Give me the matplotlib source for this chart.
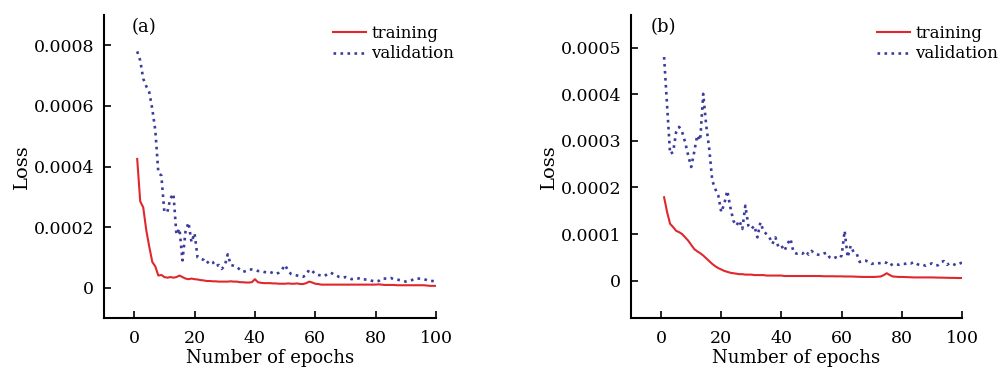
import matplotlib
matplotlib.use("Agg")
import matplotlib.pyplot as plt
import numpy as np

plt.rcParams["font.family"] = ["DejaVu Serif"]

epochs = np.arange(1, 101)

# panel (a), loss in units of 1e-4
train_a = [4.25, 2.85, 2.65, 1.9, 1.35, 0.85, 0.7, 0.4, 0.42, 0.35,
           0.33, 0.35, 0.33, 0.35, 0.4, 0.35, 0.3, 0.28, 0.3, 0.28,
           0.27, 0.25, 0.24, 0.22, 0.22, 0.21, 0.21, 0.2, 0.2, 0.2,
           0.2, 0.21, 0.2, 0.2, 0.18, 0.18, 0.17, 0.17, 0.18, 0.28,
           0.18, 0.16, 0.15, 0.15, 0.15, 0.14, 0.14, 0.13, 0.13, 0.13,
           0.14, 0.13, 0.13, 0.14, 0.12, 0.12, 0.15, 0.2, 0.17, 0.13,
           0.12, 0.1, 0.1, 0.1, 0.1, 0.1, 0.1, 0.1, 0.1, 0.1,
           0.1, 0.1, 0.1, 0.1, 0.1, 0.1, 0.1, 0.1, 0.1, 0.1,
           0.11, 0.1, 0.09, 0.09, 0.09, 0.09, 0.08, 0.08, 0.08, 0.08,
           0.08, 0.08, 0.08, 0.08, 0.08, 0.08, 0.07, 0.06, 0.06, 0.06]
val_a = [7.8, 7.5, 6.9, 6.65, 6.45, 5.9, 5.2, 3.8, 3.7, 2.5,
         2.5, 2.95, 3.1, 1.75, 1.95, 0.9, 1.85, 2.15, 1.5, 1.8,
         1.0, 0.95, 0.92, 0.8, 0.9, 0.85, 0.7, 0.75, 0.62, 0.72,
         1.1, 0.75, 0.72, 0.68, 0.6, 0.52, 0.55, 0.6, 0.6, 0.58,
         0.55, 0.55, 0.52, 0.5, 0.52, 0.48, 0.45, 0.5, 0.6, 0.75,
         0.55, 0.45, 0.42, 0.4, 0.38, 0.36, 0.42, 0.6, 0.55, 0.45,
         0.42, 0.4, 0.38, 0.45, 0.5, 0.45, 0.4, 0.35, 0.33, 0.35,
         0.32, 0.28, 0.3, 0.3, 0.32, 0.27, 0.27, 0.25, 0.22, 0.2,
         0.22, 0.3, 0.3, 0.3, 0.32, 0.28, 0.27, 0.25, 0.23, 0.2,
         0.22, 0.25, 0.3, 0.3, 0.3, 0.28, 0.25, 0.22, 0.22, 0.2]

# panel (b), loss in units of 1e-4
train_b = [1.79, 1.47, 1.22, 1.15, 1.07, 1.04, 1.0, 0.93, 0.86, 0.77,
           0.68, 0.63, 0.59, 0.54, 0.48, 0.42, 0.36, 0.31, 0.27, 0.24,
           0.21, 0.19, 0.17, 0.16, 0.15, 0.14, 0.14, 0.13, 0.13, 0.13,
           0.12, 0.12, 0.12, 0.12, 0.11, 0.11, 0.11, 0.11, 0.11, 0.11,
           0.1, 0.1, 0.1, 0.1, 0.1, 0.1, 0.1, 0.1, 0.1, 0.1,
           0.1, 0.1, 0.1, 0.095, 0.095, 0.095, 0.095, 0.093, 0.093, 0.093,
           0.09, 0.09, 0.09, 0.088, 0.085, 0.083, 0.08, 0.08, 0.08, 0.08,
           0.08, 0.085, 0.09, 0.12, 0.16, 0.12, 0.09, 0.085, 0.08, 0.08,
           0.078, 0.075, 0.073, 0.07, 0.07, 0.07, 0.07, 0.07, 0.07, 0.07,
           0.068, 0.066, 0.065, 0.064, 0.062, 0.06, 0.06, 0.058, 0.057, 0.057]
val_b = [4.8, 3.75, 2.72, 2.76, 3.19, 3.3, 3.19, 2.97, 2.69, 2.44,
         2.76, 3.12, 3.01, 4.01, 3.33, 2.83, 2.15, 1.97, 1.83, 1.47,
         1.65, 1.93, 1.58, 1.29, 1.18, 1.29, 1.11, 1.61, 1.18, 1.11,
         1.18, 0.93, 1.25, 1.07, 1.0, 0.93, 0.79, 0.93, 0.72, 0.75,
         0.64, 0.79, 0.9, 0.61, 0.58, 0.6, 0.58, 0.64, 0.56, 0.64,
         0.58, 0.56, 0.55, 0.58, 0.6, 0.5, 0.47, 0.5, 0.47, 0.54,
         1.07, 0.5, 0.75, 0.61, 0.58, 0.4, 0.43, 0.43, 0.4, 0.36,
         0.38, 0.37, 0.38, 0.4, 0.38, 0.32, 0.36, 0.36, 0.34, 0.36,
         0.36, 0.38, 0.37, 0.4, 0.36, 0.33, 0.34, 0.32, 0.35, 0.37,
         0.33, 0.33, 0.4, 0.42, 0.34, 0.38, 0.36, 0.33, 0.36, 0.39]

yticks_a = [0, 0.0002, 0.0004, 0.0006, 0.0008]
ytick_labels_a = ["0", "0.0002", "0.0004", "0.0006", "0.0008"]
yticks_b = [0, 0.0001, 0.0002, 0.0003, 0.0004, 0.0005]
ytick_labels_b = ["0", "0.0001", "0.0002", "0.0003", "0.0004", "0.0005"]
xticks = [0, 20, 40, 60, 80, 100]

RED = "#e0282c"
BLUE = "#3c3c9c"

fig = plt.figure(figsize=(10, 3.68), dpi=100)
ax_a = fig.add_axes([0.104, 0.136, 0.332, 0.823])
ax_b = fig.add_axes([0.631, 0.136, 0.331, 0.823])

# axes, train, val, tag, tag x, y ticks, y labels, y limits, legend anchor x
panels = [
    (ax_a, train_a, val_a, "(a)", 0.084, yticks_a, ytick_labels_a, (-0.0001, 0.0009), 1.085),
    (ax_b, train_b, val_b, "(b)", 0.06, yticks_b, ytick_labels_b, (-0.00008, 0.00057), 1.14),
]

for ax, tr, va, tag, tag_x, yt, ytl, ylim, leg_x in panels:
    ax.plot(epochs, np.array(tr) * 1e-4, "-", color=RED, lw=1.5, label="training")
    ax.plot(epochs, np.array(va) * 1e-4, ":", color=BLUE, lw=1.9, label="validation")
    ax.set_xlim(-10, 100)
    ax.set_ylim(*ylim)
    ax.set_xticks(xticks)
    ax.set_yticks(yt)
    ax.set_yticklabels(ytl)
    ax.spines["top"].set_visible(False)
    ax.spines["right"].set_visible(False)
    for s in ("left", "bottom"):
        ax.spines[s].set_linewidth(1.5)
    ax.tick_params(direction="in", length=5, width=1.2, labelsize=12.5)
    ax.tick_params(axis="y", pad=7)
    ax.tick_params(axis="x", pad=9)
    ax.set_xlabel("Number of epochs", fontsize=13, labelpad=1)
    ax.set_ylabel("Loss", fontsize=14, labelpad=2)
    ax.text(tag_x, 0.99, tag, transform=ax.transAxes, fontsize=13, va="top")
    ax.legend(loc="upper right", bbox_to_anchor=(leg_x, 1.0), frameon=False,
              fontsize=12, handlelength=2.0, handletextpad=0.3,
              borderaxespad=0.2, labelspacing=0.2)

fig.savefig("out.png", dpi=100)
